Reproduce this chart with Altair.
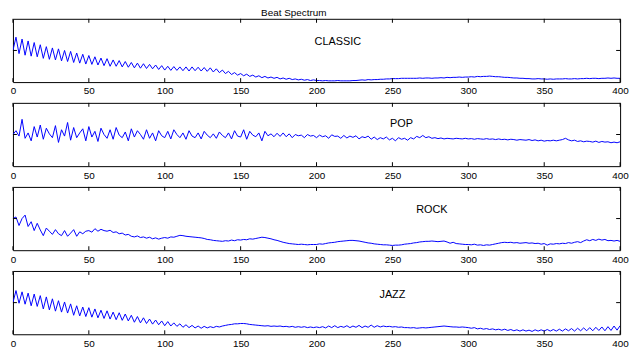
import altair as alt
import pandas as pd

# sample positions (lag index) of the beat spectrum, every 2 units
LAGS = list(range(0, 401, 2))

CLASSIC = [
    1.0, 1.42, 0.9, 1.36, 0.85, 1.3, 0.82, 1.25, 0.8, 1.18,
    0.75, 1.12, 0.72, 1.08, 0.7, 1.05, 0.67, 1.0, 0.65, 0.97,
    0.62, 0.92, 0.6, 0.88, 0.57, 0.84, 0.56, 0.8, 0.54, 0.76,
    0.52, 0.74, 0.5, 0.7, 0.5, 0.68, 0.48, 0.65, 0.47, 0.62,
    0.45, 0.6, 0.44, 0.58, 0.43, 0.56, 0.42, 0.54, 0.4, 0.52,
    0.38, 0.5, 0.37, 0.49, 0.37, 0.48, 0.36, 0.48, 0.35, 0.48,
    0.36, 0.47, 0.35, 0.46, 0.34, 0.45, 0.32, 0.42, 0.3, 0.38,
    0.27, 0.34, 0.24, 0.3, 0.22, 0.27, 0.2, 0.25, 0.18, 0.22,
    0.16, 0.2, 0.14, 0.18, 0.13, 0.16, 0.12, 0.15, 0.1, 0.13,
    0.09, 0.12, 0.08, 0.1, 0.07, 0.09, 0.06, 0.08, 0.05, 0.07,
    0.05, 0.05, 0.04, 0.05, 0.04, 0.04, 0.04, 0.05, 0.04, 0.04,
    0.04, 0.04, 0.05, 0.05, 0.06, 0.07, 0.06, 0.08, 0.07, 0.08,
    0.08, 0.09, 0.09, 0.1, 0.1, 0.11, 0.11, 0.11, 0.12, 0.12,
    0.12, 0.12, 0.12, 0.12, 0.13, 0.12, 0.13, 0.13, 0.12, 0.13,
    0.13, 0.14, 0.13, 0.15, 0.14, 0.15, 0.15, 0.16, 0.15, 0.16,
    0.16, 0.17, 0.16, 0.18, 0.17, 0.18, 0.18, 0.19, 0.18, 0.17,
    0.17, 0.16, 0.15, 0.15, 0.14, 0.13, 0.13, 0.12, 0.12, 0.11,
    0.11, 0.1, 0.1, 0.11, 0.1, 0.1, 0.09, 0.1, 0.09, 0.1,
    0.1, 0.1, 0.11, 0.1, 0.1, 0.11, 0.1, 0.11, 0.11, 0.12,
    0.11, 0.12, 0.12, 0.11, 0.12, 0.12, 0.13, 0.12, 0.13, 0.12,
    0.12,
]

POP = [
    1.0, 1.12, 0.95, 1.48, 0.88, 1.05, 0.8, 1.25, 0.92, 1.3,
    0.85, 1.2, 1.02, 0.9, 1.28, 0.75, 1.15, 0.95, 1.38, 0.82,
    1.22, 0.9, 1.05, 1.18, 0.8, 1.25, 0.92, 1.1, 0.78, 1.2,
    1.0, 0.88, 1.15, 0.85, 1.22, 0.98, 0.9, 1.08, 0.8, 1.18,
    0.92, 1.12, 1.0, 0.85, 1.15, 0.88, 1.05, 0.8, 1.12, 0.96,
    0.9, 1.1, 0.86, 1.15, 1.0, 0.9, 1.05, 0.85, 1.12, 0.95,
    0.9, 1.05, 0.86, 1.1, 0.98, 0.9, 1.02, 0.88, 1.08, 0.97,
    0.9, 1.05, 0.86, 1.12, 0.95, 0.92, 1.15, 0.85, 1.1, 0.98,
    0.93, 1.05, 0.8, 1.1, 0.96, 1.02, 0.93, 1.04, 0.94, 1.05,
    0.93, 1.02, 0.9, 1.0, 0.96, 0.98, 0.9, 1.0, 0.95, 0.97,
    0.9, 0.98, 0.93, 0.96, 0.88, 0.99, 0.94, 0.95, 0.88, 0.97,
    0.89, 0.95, 0.91, 0.96, 0.86, 0.93, 0.9, 0.95, 0.85, 0.92,
    0.84, 0.9, 0.86, 0.92, 0.83, 0.88, 0.8, 0.9, 0.85, 0.88,
    0.82, 0.9, 0.86, 0.94, 0.9, 0.97, 0.9, 0.93, 0.88, 0.9,
    0.87, 0.89, 0.86, 0.88, 0.87, 0.86, 0.88, 0.87, 0.86, 0.88,
    0.86, 0.87, 0.85, 0.87, 0.86, 0.85, 0.87, 0.85, 0.86, 0.84,
    0.86, 0.84, 0.85, 0.83, 0.85, 0.84, 0.82, 0.84, 0.83, 0.82,
    0.84, 0.81, 0.83, 0.8, 0.82, 0.79, 0.81, 0.8, 0.82, 0.8,
    0.82, 0.84, 0.88, 0.83, 0.8, 0.82, 0.78, 0.8, 0.77, 0.79,
    0.78, 0.76, 0.79, 0.75, 0.78, 0.76, 0.77, 0.74, 0.76, 0.74,
    0.77,
]

ROCK = [
    1.0, 1.05, 0.78, 1.0, 1.11, 0.75, 0.9, 0.62, 0.85, 0.64,
    0.46, 0.7, 0.6, 0.5, 0.65, 0.52, 0.46, 0.62, 0.44, 0.54,
    0.65, 0.44, 0.58, 0.52, 0.6, 0.62, 0.57, 0.68, 0.6, 0.66,
    0.62, 0.6, 0.63, 0.56, 0.58, 0.52, 0.54, 0.48, 0.5, 0.44,
    0.42, 0.45, 0.4, 0.42, 0.38, 0.41, 0.36, 0.39, 0.35, 0.38,
    0.4, 0.38, 0.42, 0.41, 0.44, 0.47, 0.46, 0.44, 0.43, 0.42,
    0.41, 0.4, 0.39, 0.37, 0.34, 0.33, 0.31, 0.3, 0.29, 0.28,
    0.3, 0.29, 0.32, 0.3, 0.33, 0.32, 0.34, 0.33, 0.36, 0.35,
    0.37, 0.39, 0.41, 0.4, 0.38, 0.36, 0.33, 0.31, 0.28, 0.25,
    0.23, 0.21, 0.2, 0.19, 0.18, 0.19, 0.18, 0.17, 0.18, 0.18,
    0.18, 0.2, 0.19, 0.21, 0.23, 0.24, 0.25, 0.27, 0.28, 0.29,
    0.3, 0.31, 0.31, 0.3, 0.29, 0.27, 0.25, 0.23, 0.22, 0.2,
    0.19, 0.18, 0.17, 0.17, 0.16, 0.15, 0.16, 0.16, 0.17, 0.19,
    0.2, 0.21, 0.23, 0.24, 0.26, 0.27, 0.28, 0.28, 0.29, 0.28,
    0.27, 0.28, 0.29, 0.26, 0.22, 0.25, 0.21, 0.2, 0.19, 0.18,
    0.18, 0.17, 0.19, 0.16, 0.17, 0.15, 0.17, 0.16, 0.18, 0.2,
    0.22, 0.24, 0.25, 0.24, 0.25, 0.23, 0.24, 0.22, 0.23, 0.24,
    0.22, 0.23, 0.21, 0.22, 0.19, 0.21, 0.16, 0.2, 0.19, 0.21,
    0.2, 0.22, 0.21, 0.24, 0.22, 0.25, 0.27, 0.24, 0.29, 0.33,
    0.3, 0.34, 0.31, 0.35, 0.32, 0.34, 0.3, 0.31, 0.29, 0.31,
    0.28,
]

JAZZ = [
    1.0, 1.38, 0.98, 1.34, 0.95, 1.3, 0.9, 1.27, 0.88, 1.22,
    0.8, 1.18, 0.77, 1.12, 0.73, 1.06, 0.7, 1.02, 0.67, 0.96,
    0.6, 0.9, 0.58, 0.86, 0.56, 0.84, 0.54, 0.8, 0.52, 0.76,
    0.5, 0.74, 0.48, 0.7, 0.46, 0.68, 0.44, 0.64, 0.42, 0.6,
    0.38, 0.56, 0.36, 0.52, 0.34, 0.48, 0.32, 0.45, 0.3, 0.42,
    0.27, 0.4, 0.26, 0.36, 0.25, 0.33, 0.22, 0.3, 0.21, 0.28,
    0.2, 0.26, 0.19, 0.25, 0.2, 0.24, 0.21, 0.25, 0.23, 0.26,
    0.28, 0.3, 0.31, 0.33, 0.33, 0.34, 0.34, 0.33, 0.31, 0.3,
    0.29, 0.28, 0.27, 0.26, 0.27, 0.25, 0.26, 0.25, 0.26, 0.24,
    0.25, 0.23, 0.25, 0.22, 0.24, 0.22, 0.24, 0.21, 0.23, 0.21,
    0.23, 0.21, 0.24, 0.2, 0.26, 0.21, 0.27, 0.21, 0.25, 0.22,
    0.27, 0.21, 0.26, 0.22, 0.28, 0.21, 0.26, 0.22, 0.29, 0.22,
    0.27, 0.23, 0.26, 0.24, 0.25, 0.23, 0.24, 0.22, 0.23, 0.21,
    0.21, 0.2, 0.21, 0.19, 0.2, 0.21, 0.2, 0.21, 0.22, 0.23,
    0.24, 0.25, 0.26, 0.25, 0.24, 0.23, 0.23, 0.22, 0.23, 0.22,
    0.21, 0.19, 0.21, 0.17, 0.19, 0.16, 0.18, 0.15, 0.17, 0.14,
    0.16, 0.13, 0.16, 0.12, 0.15, 0.11, 0.14, 0.1, 0.14, 0.1,
    0.13, 0.09, 0.14, 0.1, 0.14, 0.1, 0.15, 0.1, 0.15, 0.1,
    0.16, 0.1, 0.17, 0.11, 0.18, 0.1, 0.19, 0.11, 0.2, 0.11,
    0.21, 0.11, 0.22, 0.12, 0.23, 0.11, 0.24, 0.12, 0.26, 0.13,
    0.27,
]

GENRES = ["CLASSIC", "POP", "ROCK", "JAZZ"]
SERIES = [CLASSIC, POP, ROCK, JAZZ]
LABEL_X = [214, 256, 276, 250]
LABEL_Y = [1.28, 1.32, 1.28, 1.23]
X_TICKS = [0, 50, 100, 150, 200, 250, 300, 350, 400]
Y_TICKS = [1]
TITLE = "Beat Spectrum"

W, H = 614, 64
FONT = "Liberation Sans"
XS = alt.Scale(domain=[0, 400], nice=False, zero=False)
YS = alt.Scale(domain=[0, 2], nice=False, zero=False)
XAXIS = alt.Axis(values=X_TICKS, title=None, tickSize=0, domain=False, grid=False,
                 labelFont=FONT, labelFontSize=10, labelColor="black",
                 labelPadding=4, labelFlush=False)


def panel(name, values, lx, ly, title=None):
    df = pd.DataFrame({"lag": LAGS, "value": values})
    xenc = alt.X("lag:Q", scale=XS, axis=XAXIS)
    line = alt.Chart(df).mark_line(color="#0000ff", strokeWidth=1, clip=True).encode(
        x=xenc, y=alt.Y("value:Q", scale=YS, axis=None))
    tdf = pd.DataFrame({"lag": X_TICKS})
    top_ticks = alt.Chart(tdf).mark_rule(color="black").encode(
        x=xenc, y=alt.value(0), y2=alt.value(4))
    bot_ticks = alt.Chart(tdf).mark_rule(color="black").encode(
        x=xenc, y=alt.value(H - 4), y2=alt.value(H))
    ydf = pd.DataFrame({"value": Y_TICKS})
    left_ticks = alt.Chart(ydf).mark_rule(color="black").encode(
        y=alt.Y("value:Q", scale=YS, axis=None), x=alt.value(0), x2=alt.value(4))
    right_ticks = alt.Chart(ydf).mark_rule(color="black").encode(
        y=alt.Y("value:Q", scale=YS, axis=None), x=alt.value(W - 4), x2=alt.value(W))
    ldf = pd.DataFrame({"lag": [lx], "value": [ly], "name": [name]})
    label = alt.Chart(ldf).mark_text(font=FONT, fontSize=11, color="black",
                                     align="center", baseline="middle").encode(
        x=xenc, y=alt.Y("value:Q", scale=YS, axis=None), text="name:N")
    props = dict(width=W, height=H)
    if title:
        props["title"] = alt.TitleParams(title, font=FONT, fontSize=10, fontWeight="normal",
                                         color="black", anchor="middle", dx=-23, offset=0)
    return alt.layer(line, top_ticks, bot_ticks, left_ticks, right_ticks, label).properties(**props)


panels = [panel(g, s, lx, ly, TITLE if i == 0 else None)
          for i, (g, s, lx, ly) in enumerate(zip(GENRES, SERIES, LABEL_X, LABEL_Y))]

chart = alt.vconcat(*panels, spacing=21, bounds="flush").properties(
    padding={"left": 1, "top": -2, "right": 0, "bottom": 0}
).configure_view(stroke="black", strokeWidth=1)

chart.save("out.html", embed_options={"renderer": "svg", "actions": False})
